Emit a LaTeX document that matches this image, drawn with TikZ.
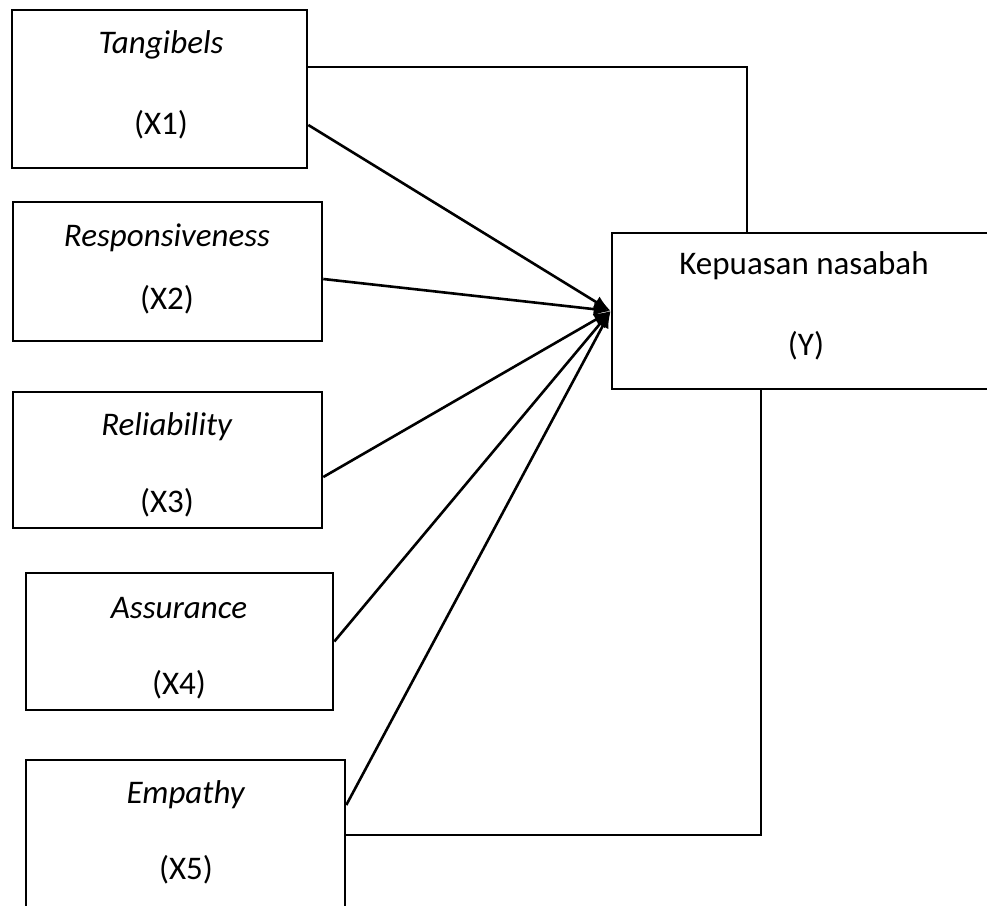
\documentclass[tikz,border=0pt]{standalone}
\usepackage{fontspec}
\setmainfont{Carlito}
\usetikzlibrary{arrows.meta}

\tikzset{
    varbox/.style={draw, line width=2.6pt, inner sep=0pt},
    lbl/.style={font=\fontsize{33}{38}\selectfont, inner sep=0pt},
    link/.style={line width=2.6pt},
    arr/.style={line width=2.6pt, -{Latex[length=17pt,width=13pt]}}
}

\begin{document}
\begin{tikzpicture}[x=1pt, y=-1pt]
    \useasboundingbox (0,0) rectangle (987,905);
    % boxes
    \node[varbox, minimum width=295pt, minimum height=158pt] (x1) at (159.5,89) {};
    \node[varbox, minimum width=309pt, minimum height=139pt] (x2) at (167.5,271.5) {};
    \node[varbox, minimum width=309pt, minimum height=136pt] (x3) at (167.5,460) {};
    \node[varbox, minimum width=307pt, minimum height=137pt] (x4) at (179.5,641.5) {};
    \node[varbox, minimum width=319pt, minimum height=180pt] (x5) at (185.5,850) {};
    \node[varbox, minimum width=388pt, minimum height=156pt] (y) at (806,311) {};
    % texts
    \node[lbl] (t1) at (161,45) {\textit{Tangibels}};
    \node[lbl] (c1) at (161,125) {(X1)};
    \node[lbl] (t2) at (167,238) {\textit{Responsiveness}};
    \node[lbl] (c2) at (167,300) {(X2)};
    \node[lbl] (t3) at (167,427) {\textit{Reliability}};
    \node[lbl] (c3) at (167,503) {(X3)};
    \node[lbl] (t4) at (179,608) {\textit{Assurance}};
    \node[lbl] (c4) at (179,685) {(X4)};
    \node[lbl] (t5) at (186,795) {\textit{Empathy}};
    \node[lbl] (c5) at (186,870) {(X5)};
    \node[lbl] (ty) at (804,266) {Kepuasan nasabah};
    \node[lbl] (cy) at (806,346) {(Y)};
    % connectors
    \coordinate (top) at (747,67);
    \coordinate (bot) at (761,835);
    \draw[link] (x1.east |- top) -- (top) -- (top |- y.north);
    \draw[link] (x5.east |- bot) -- (bot) -- (bot |- y.south);
    \foreach \n/\s in {1/-36,2/-7.5,3/-17,4/0,5/45}
        \draw[arr] ([yshift=\s pt]x\n.east) -- (y.west);
\end{tikzpicture}
\end{document}
